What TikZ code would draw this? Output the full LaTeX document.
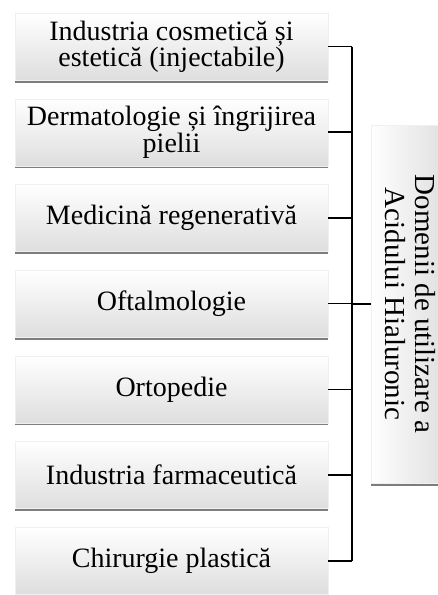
\documentclass[tikz,border=0pt]{standalone}
\usepackage{fontspec}
\setmainfont{Liberation Serif}
\usetikzlibrary{shadows}

\begin{document}
\begin{tikzpicture}[x=1pt,y=-1pt,
  usebox/.style={minimum width=313pt,minimum height=67pt,align=center,inner sep=2pt,
    top color=white,bottom color=gray!26,draw=gray!12,
    drop shadow={shadow xshift=-0.5pt,shadow yshift=-2.5pt,opacity=0.85,fill=black!60},
    font=\fontsize{28}{25}\selectfont},
  hubbox/.style={minimum width=358pt,minimum height=78pt,align=center,inner sep=2pt,
    left color=white,right color=gray!26,draw=gray!12,
    drop shadow={shadow xshift=-0.5pt,shadow yshift=-2.5pt,opacity=0.85,fill=black!60},
    font=\fontsize{29}{30}\selectfont},
  link/.style={line width=1.6pt}]
\useasboundingbox (0,0) rectangle (437,595);

\foreach \i/\y/\txt in {1/46.5/{Industria cosmetică și\\estetică (injectabile)},
  2/132.2/{Dermatologie și îngrijirea\\pielii},
  3/217.9/{Medicină regenerativă},
  4/303.6/{Oftalmologie},
  5/389.3/{Ortopedie},
  6/475/{Industria farmaceutică},
  7/560.7/{Chirurgie plastică}}
{
\node[usebox] (b\i) at (171.5,\y) {\txt};
}

\node[hubbox,rotate=-90] (hub) at (410,304) {Domenii de utilizare a\\Acidului Hialuronic};

\coordinate (spine) at (352,0);
\foreach \i in {1,...,7}
{
\draw[link] (b\i.east) -- (b\i.east -| spine);
}
\draw[link] (b1.east -| spine) -- (b7.east -| spine);
\draw[link,line width=2.2pt] (spine |- hub.south) -- (hub.south);
\end{tikzpicture}
\end{document}
